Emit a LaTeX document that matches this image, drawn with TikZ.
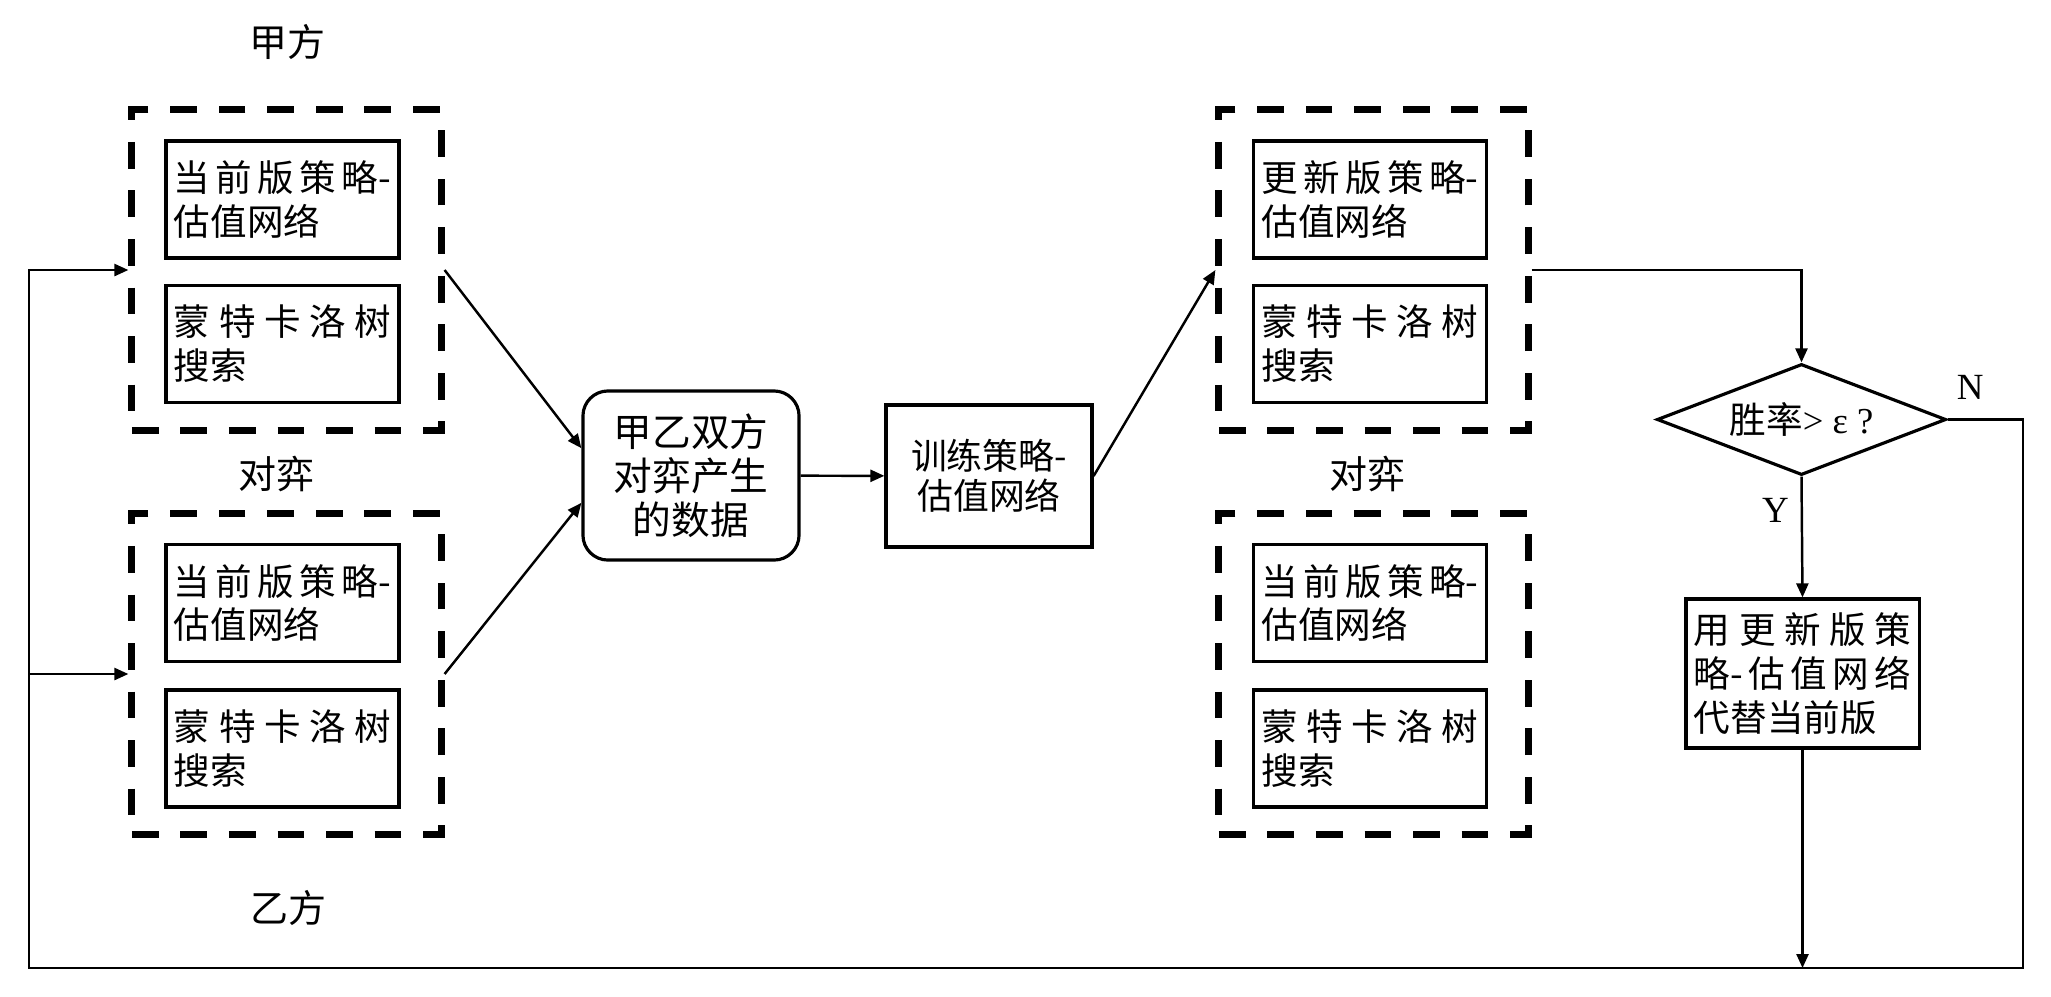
\documentclass[tikz,border=0pt]{standalone}
\usepackage{fontspec}
\setmainfont{Liberation Serif}
\newfontfamily\cjk{Noto Sans CJK SC}
\usetikzlibrary{shapes.geometric,arrows.meta,positioning}

% 两端对齐的一行
\makeatletter
\newcommand\jline[1]{\makebox[\linewidth][s]{\@tfor\jc:=#1\do{\jc\hfill}\unskip}}
\makeatother

\begin{document}
\begin{tikzpicture}[x=0.01cm, y=-0.01cm,
			every node/.style={font=\cjk\fontsize{10.4}{12.5}\selectfont},
			group/.style={draw, line width=2pt, dash pattern=on 7.6pt off 6.2pt, minimum width=3.09cm, minimum height=3.2cm, inner sep=0pt},
			module/.style={draw, line width=0.9pt, text width=2.17cm, minimum width=2.33cm, minimum height=1.17cm, inner xsep=0.08cm, align=left},
			process/.style={draw, line width=0.9pt, align=center},
			decision/.style={diamond, draw, line width=0.9pt, aspect=2.6, minimum width=2.89cm, minimum height=1.11cm, inner sep=0pt, font=\fontsize{10.4}{12.5}\selectfont},
			tag/.style={font=\cjk\fontsize{10.8}{13}\selectfont},
			yn/.style={font=\fontsize{10.5}{12.5}\selectfont},
			arrow/.style={draw, line width=0.7pt, -{Triangle[length=1.4mm,width=1.2mm]}}
			]
			\useasboundingbox (0,0) rectangle (2051,996);
			
			% 甲方 / 乙方
			\node (ul) [group] at (286.5,270) {};
			\node (ul1) [module] at (282.5,199.5) {\jline{当前版策{略-}}\\估值网络};
			\node (ul2) [module] at (282.5,344) {\jline{蒙特卡洛树}\\搜索};
			\node (ll) [group] at (286.5,674) {};
			\node (ll1) [module] at (282.5,603) {\jline{当前版策{略-}}\\估值网络};
			\node (ll2) [module] at (282.5,748.5) {\jline{蒙特卡洛树}\\搜索};
			\node (jia) [tag] at (287,42) {甲方};
			\node (duiL) [tag] at (276,474) {对弈};
			\node (yi) [tag] at (288,908) {乙方};
			
			% 数据与训练
			\node (data) [process, rounded corners=0.25cm, minimum width=2.16cm, minimum height=1.69cm, font=\cjk\fontsize{11}{12.5}\selectfont] at (691,475.5) {甲乙双方\\对弈产生\\的数据};
			\node (train) [process, minimum width=2.06cm, minimum height=1.42cm, font=\cjk\fontsize{10.2}{11.5}\selectfont] at (989,476) {训练策略-\\估值网络};
			
			% 评估
			\node (ur) [group] at (1373.5,270) {};
			\node (ur1) [module] at (1370,199.5) {\jline{更新版策{略-}}\\估值网络};
			\node (ur2) [module] at (1370,344) {\jline{蒙特卡洛树}\\搜索};
			\node (lr) [group] at (1373.5,674) {};
			\node (lr1) [module] at (1370,603) {\jline{当前版策{略-}}\\估值网络};
			\node (lr2) [module] at (1370,748.5) {\jline{蒙特卡洛树}\\搜索};
			\node (duiR) [tag] at (1367,474) {对弈};
			\node (win) [decision] at (1801.5,419.5) {{\cjk 胜率}> ε ?};
			\node (repl) [module, minimum height=1.49cm] at (1802.5,673.5) {\jline{用更新版策}\\\jline{{略-}估值网络}\\代替当前版};
			\coordinate (rb) at (2023,968);
			\coordinate (lb) at (29,968);
			
			% 连线
			\draw [arrow] (ul.east) -- (data.166);
			\draw [arrow] (ll.east) -- (data.194);
			\draw [arrow] (data) -- (train);
			\draw [arrow] (train.east) -- (ur.west);
			\draw [arrow] (ur.east) -| (win.north);
			\draw [arrow] (win.south) -- node[yn, pos=0.28, left] {Y} (repl.north);
			\draw [arrow] (win.east) -| node[yn, pos=0.15, above, yshift=2pt] {N} (rb) -- (lb) |- (ul.west);
			\draw [arrow] (lb |- ll.west) -- (ll.west);
			\draw [arrow] (repl.south) -- (repl.south |- rb);
			
		\end{tikzpicture}
\end{document}
